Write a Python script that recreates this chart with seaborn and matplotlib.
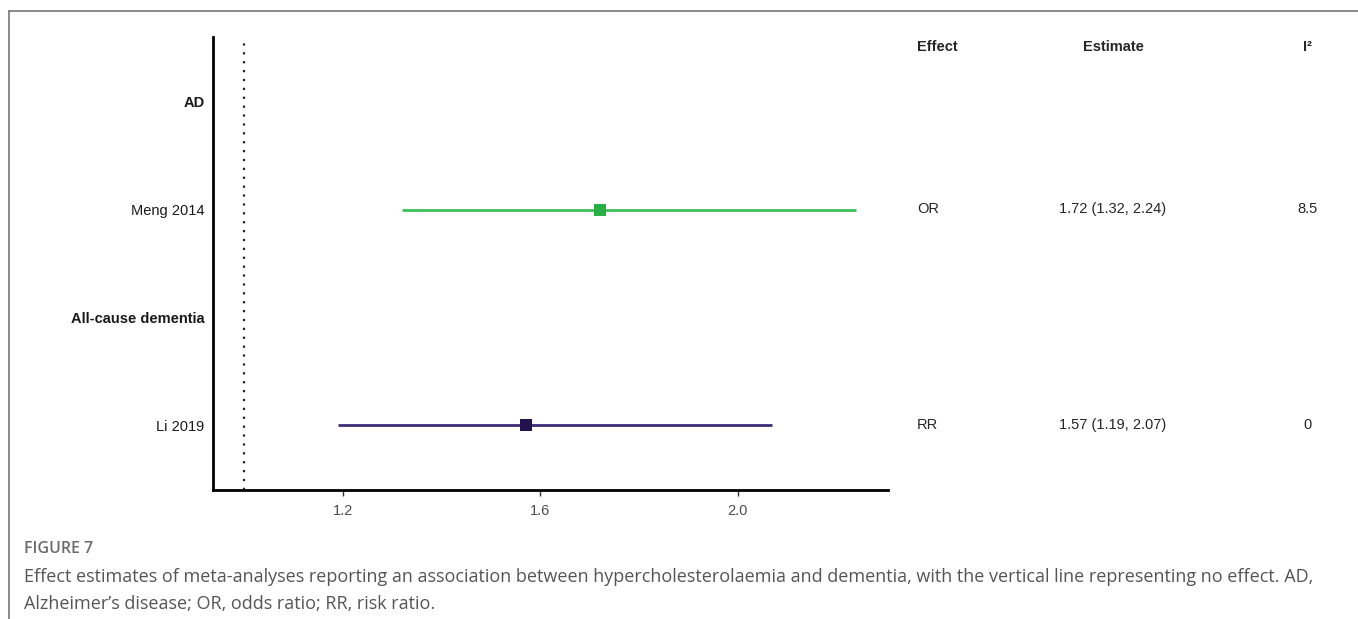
import matplotlib
matplotlib.use("Agg")
import matplotlib.pyplot as plt
import matplotlib.transforms as mtransforms
from matplotlib.lines import Line2D
import seaborn as sns
import pandas as pd

# ---- data ----
row_labels = ["AD", "Meng 2014", "All-cause dementia", "Li 2019"]
row_is_header = [True, False, True, False]
studies = ["Meng 2014", "Li 2019"]
estimates = [1.72, 1.57]
lower = [1.32, 1.19]
upper = [2.24, 2.07]
effect_types = ["OR", "RR"]
i2_values = ["8.5", "0"]
study_colors = ["#2aaf48", "#24124f"]
line_colors = ["#3cc05c", "#3f2d78"]
x_ticks = [1.2, 1.6, 2.0]
null_value = 1.0
caption_title = "FIGURE 7"
caption_lines = [
    "Effect estimates of meta-analyses reporting an association between hypercholesterolaemia and dementia, with the vertical line representing no effect. AD,",
    "Alzheimer\u2019s disease; OR, odds ratio; RR, risk ratio.",
]

sns.set_theme(style="white")
plt.rcParams["font.family"] = ["Liberation Sans", "DejaVu Sans"]

fig = plt.figure(figsize=(13.58, 6.19), dpi=100)
ax = fig.add_axes([213 / 1358, 1 - 490 / 619, (888 - 213) / 1358, (490 - 37) / 619])

n = len(row_labels)
ypos = {lab: n - i for i, lab in enumerate(row_labels)}

df = pd.DataFrame({"study": studies, "est": estimates, "lo": lower, "hi": upper,
                   "y": [ypos[s] for s in studies]})

for i, r in df.iterrows():
    ax.hlines(r["y"], r["lo"], r["hi"], color=line_colors[i], lw=2, zorder=2)
sns.scatterplot(data=df, x="est", y="y", hue="study", palette=study_colors,
                marker="s", s=75, edgecolor="none", legend=False, ax=ax, zorder=3)

ax.axvline(null_value, color="#222222", ls=(0, (1, 3)), lw=1.6, zorder=1)

ax.set_xlim(0.937, 2.304)
ax.set_ylim(0.4, n + 0.6)
ax.set_xticks(x_ticks)
ax.set_xticklabels([f"{t:.1f}" for t in x_ticks], color="#4d4d4d", fontsize=10.5)
ax.set_yticks([ypos[l] for l in row_labels])
ax.set_yticklabels(row_labels, fontsize=10.5, color="#1a1a1a")
for lab, hdr in zip(ax.get_yticklabels(), row_is_header):
    if hdr:
        lab.set_fontweight("bold")
ax.set_xlabel("")
ax.set_ylabel("")
for side in ["top", "right"]:
    ax.spines[side].set_visible(False)
for side in ["left", "bottom"]:
    ax.spines[side].set_color("black")
    ax.spines[side].set_linewidth(2)
ax.tick_params(axis="x", length=4, width=1, color="#333333", bottom=True, pad=6)
ax.tick_params(axis="y", length=0, pad=6)
ax.grid(False)

# ---- table columns ----
trans = mtransforms.blended_transform_factory(fig.transFigure, ax.transData)
col_effect_x = 917 / 1358
col_est_x = 1113 / 1358
col_i2_x = 1308 / 1358
hy = n + 0.51
ax.text(col_effect_x, hy, "Effect", transform=trans, ha="left", va="center",
        fontsize=10.5, fontweight="bold", clip_on=False)
ax.text(col_est_x, hy, "Estimate", transform=trans, ha="center", va="center",
        fontsize=10.5, fontweight="bold", clip_on=False)
ax.text(col_i2_x, hy, "I\u00b2", transform=trans, ha="center", va="center",
        fontsize=10.5, fontweight="bold", clip_on=False)
for i, s in enumerate(studies):
    y = ypos[s] + 0.005
    ax.text(col_effect_x, y, effect_types[i], transform=trans, ha="left", va="center",
            fontsize=10.5, clip_on=False)
    ax.text(col_est_x, y, f"{estimates[i]:.2f} ({lower[i]:.2f}, {upper[i]:.2f})",
            transform=trans, ha="center", va="center", fontsize=10.5, clip_on=False)
    ax.text(col_i2_x, y, i2_values[i], transform=trans, ha="center", va="center",
            fontsize=10.5, clip_on=False)

# ---- frame and caption ----
fig.add_artist(Line2D([9 / 1358, 1.0], [1 - 11 / 619, 1 - 11 / 619],
                      transform=fig.transFigure, color="#777777", lw=1.2))
fig.add_artist(Line2D([9 / 1358, 9 / 1358], [0, 1 - 11 / 619],
                      transform=fig.transFigure, color="#777777", lw=1.2))
fig.text(24 / 1358, 1 - 549 / 619, caption_title, family=["Open Sans", "DejaVu Sans"],
         fontsize=11.5, fontweight="semibold", color="#6b6b6b", va="center", ha="left")
for k, line in enumerate(caption_lines):
    fig.text(24 / 1358, 1 - (577 + 27 * k) / 619, line, family=["Open Sans", "DejaVu Sans"],
             fontsize=13.0, color="#555555", va="center", ha="left")

fig.savefig("out.png", dpi=100, facecolor="white")
